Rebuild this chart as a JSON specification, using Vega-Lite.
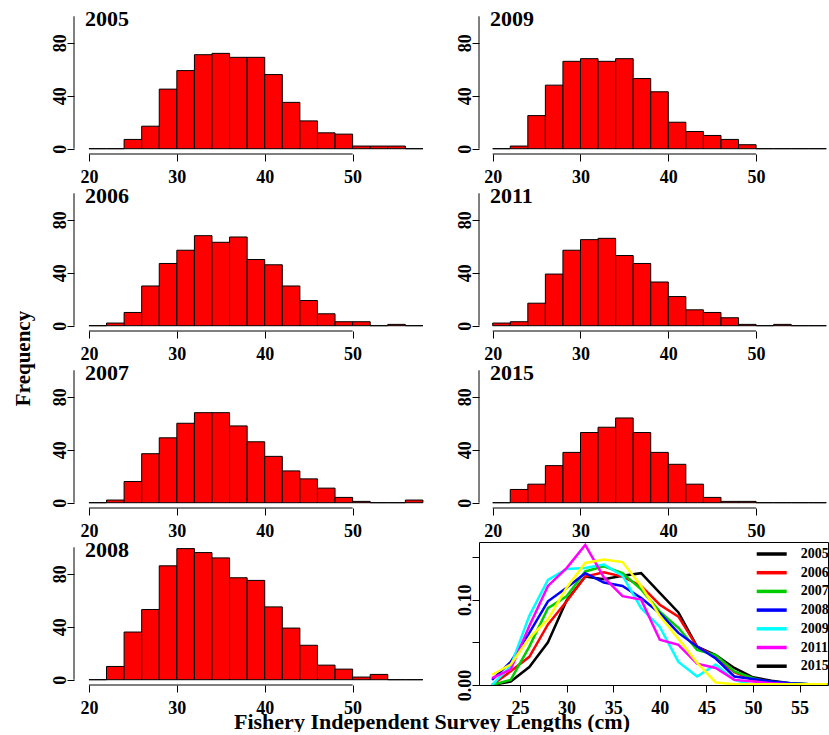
{
 "$schema": "https://vega.github.io/schema/vega-lite/v6.json",
 "padding": {"left": 12, "top": 8, "right": 0, "bottom": 0},
 "columns": 2,
 "spacing": {"row": 34, "column": 42},
 "bounds": "flush",
 "align": "each",
 "datasets": {
  "hist": [
   {"year":"2005","lo":20,"hi":22,"count":0},{"year":"2005","lo":22,"hi":24,"count":0},{"year":"2005","lo":24,"hi":26,"count":7},{"year":"2005","lo":26,"hi":28,"count":17},{"year":"2005","lo":28,"hi":30,"count":45},{"year":"2005","lo":30,"hi":32,"count":59},{"year":"2005","lo":32,"hi":34,"count":71},{"year":"2005","lo":34,"hi":36,"count":72},{"year":"2005","lo":36,"hi":38,"count":69},{"year":"2005","lo":38,"hi":40,"count":69},{"year":"2005","lo":40,"hi":42,"count":56},{"year":"2005","lo":42,"hi":44,"count":35},{"year":"2005","lo":44,"hi":46,"count":21},{"year":"2005","lo":46,"hi":48,"count":12},{"year":"2005","lo":48,"hi":50,"count":11},{"year":"2005","lo":50,"hi":52,"count":2},{"year":"2005","lo":52,"hi":54,"count":2},{"year":"2005","lo":54,"hi":56,"count":2},{"year":"2005","lo":56,"hi":58,"count":0},
   {"year":"2006","lo":20,"hi":22,"count":0},{"year":"2006","lo":22,"hi":24,"count":2},{"year":"2006","lo":24,"hi":26,"count":10},{"year":"2006","lo":26,"hi":28,"count":30},{"year":"2006","lo":28,"hi":30,"count":47},{"year":"2006","lo":30,"hi":32,"count":57},{"year":"2006","lo":32,"hi":34,"count":68},{"year":"2006","lo":34,"hi":36,"count":63},{"year":"2006","lo":36,"hi":38,"count":67},{"year":"2006","lo":38,"hi":40,"count":50},{"year":"2006","lo":40,"hi":42,"count":46},{"year":"2006","lo":42,"hi":44,"count":30},{"year":"2006","lo":44,"hi":46,"count":19},{"year":"2006","lo":46,"hi":48,"count":9},{"year":"2006","lo":48,"hi":50,"count":3},{"year":"2006","lo":50,"hi":52,"count":3},{"year":"2006","lo":52,"hi":54,"count":0},{"year":"2006","lo":54,"hi":56,"count":1},{"year":"2006","lo":56,"hi":58,"count":0},
   {"year":"2007","lo":20,"hi":22,"count":0},{"year":"2007","lo":22,"hi":24,"count":2},{"year":"2007","lo":24,"hi":26,"count":16},{"year":"2007","lo":26,"hi":28,"count":37},{"year":"2007","lo":28,"hi":30,"count":49},{"year":"2007","lo":30,"hi":32,"count":60},{"year":"2007","lo":32,"hi":34,"count":68},{"year":"2007","lo":34,"hi":36,"count":68},{"year":"2007","lo":36,"hi":38,"count":58},{"year":"2007","lo":38,"hi":40,"count":46},{"year":"2007","lo":40,"hi":42,"count":35},{"year":"2007","lo":42,"hi":44,"count":24},{"year":"2007","lo":44,"hi":46,"count":18},{"year":"2007","lo":46,"hi":48,"count":11},{"year":"2007","lo":48,"hi":50,"count":4},{"year":"2007","lo":50,"hi":52,"count":1},{"year":"2007","lo":52,"hi":54,"count":0},{"year":"2007","lo":54,"hi":56,"count":0},{"year":"2007","lo":56,"hi":58,"count":2},
   {"year":"2008","lo":20,"hi":22,"count":0},{"year":"2008","lo":22,"hi":24,"count":10},{"year":"2008","lo":24,"hi":26,"count":36},{"year":"2008","lo":26,"hi":28,"count":53},{"year":"2008","lo":28,"hi":30,"count":86},{"year":"2008","lo":30,"hi":32,"count":99},{"year":"2008","lo":32,"hi":34,"count":96},{"year":"2008","lo":34,"hi":36,"count":92},{"year":"2008","lo":36,"hi":38,"count":77},{"year":"2008","lo":38,"hi":40,"count":75},{"year":"2008","lo":40,"hi":42,"count":55},{"year":"2008","lo":42,"hi":44,"count":39},{"year":"2008","lo":44,"hi":46,"count":26},{"year":"2008","lo":46,"hi":48,"count":11},{"year":"2008","lo":48,"hi":50,"count":8},{"year":"2008","lo":50,"hi":52,"count":2},{"year":"2008","lo":52,"hi":54,"count":4},{"year":"2008","lo":54,"hi":56,"count":0},{"year":"2008","lo":56,"hi":58,"count":0},
   {"year":"2009","lo":20,"hi":22,"count":0},{"year":"2009","lo":22,"hi":24,"count":2},{"year":"2009","lo":24,"hi":26,"count":25},{"year":"2009","lo":26,"hi":28,"count":48},{"year":"2009","lo":28,"hi":30,"count":66},{"year":"2009","lo":30,"hi":32,"count":68},{"year":"2009","lo":32,"hi":34,"count":66},{"year":"2009","lo":34,"hi":36,"count":68},{"year":"2009","lo":36,"hi":38,"count":53},{"year":"2009","lo":38,"hi":40,"count":43},{"year":"2009","lo":40,"hi":42,"count":20},{"year":"2009","lo":42,"hi":44,"count":13},{"year":"2009","lo":44,"hi":46,"count":10},{"year":"2009","lo":46,"hi":48,"count":7},{"year":"2009","lo":48,"hi":50,"count":3},{"year":"2009","lo":50,"hi":52,"count":0},{"year":"2009","lo":52,"hi":54,"count":0},{"year":"2009","lo":54,"hi":56,"count":0},{"year":"2009","lo":56,"hi":58,"count":0},
   {"year":"2011","lo":20,"hi":22,"count":2},{"year":"2011","lo":22,"hi":24,"count":3},{"year":"2011","lo":24,"hi":26,"count":17},{"year":"2011","lo":26,"hi":28,"count":39},{"year":"2011","lo":28,"hi":30,"count":57},{"year":"2011","lo":30,"hi":32,"count":65},{"year":"2011","lo":32,"hi":34,"count":66},{"year":"2011","lo":34,"hi":36,"count":53},{"year":"2011","lo":36,"hi":38,"count":47},{"year":"2011","lo":38,"hi":40,"count":33},{"year":"2011","lo":40,"hi":42,"count":22},{"year":"2011","lo":42,"hi":44,"count":12},{"year":"2011","lo":44,"hi":46,"count":10},{"year":"2011","lo":46,"hi":48,"count":6},{"year":"2011","lo":48,"hi":50,"count":1},{"year":"2011","lo":50,"hi":52,"count":0},{"year":"2011","lo":52,"hi":54,"count":1},{"year":"2011","lo":54,"hi":56,"count":0},{"year":"2011","lo":56,"hi":58,"count":0},
   {"year":"2015","lo":20,"hi":22,"count":0},{"year":"2015","lo":22,"hi":24,"count":10},{"year":"2015","lo":24,"hi":26,"count":14},{"year":"2015","lo":26,"hi":28,"count":28},{"year":"2015","lo":28,"hi":30,"count":38},{"year":"2015","lo":30,"hi":32,"count":53},{"year":"2015","lo":32,"hi":34,"count":57},{"year":"2015","lo":34,"hi":36,"count":64},{"year":"2015","lo":36,"hi":38,"count":53},{"year":"2015","lo":38,"hi":40,"count":38},{"year":"2015","lo":40,"hi":42,"count":29},{"year":"2015","lo":42,"hi":44,"count":14},{"year":"2015","lo":44,"hi":46,"count":4},{"year":"2015","lo":46,"hi":48,"count":1},{"year":"2015","lo":48,"hi":50,"count":1},{"year":"2015","lo":50,"hi":52,"count":0},{"year":"2015","lo":52,"hi":54,"count":0},{"year":"2015","lo":54,"hi":56,"count":0},{"year":"2015","lo":56,"hi":58,"count":0}
  ],
  "dens": [
   {"year":"2005","len":22,"dens":0.000},{"year":"2005","len":24,"dens":0.004},{"year":"2005","len":26,"dens":0.021},{"year":"2005","len":28,"dens":0.050},{"year":"2005","len":30,"dens":0.099},{"year":"2005","len":32,"dens":0.127},{"year":"2005","len":34,"dens":0.124},{"year":"2005","len":36,"dens":0.128},{"year":"2005","len":38,"dens":0.131},{"year":"2005","len":40,"dens":0.108},{"year":"2005","len":42,"dens":0.085},{"year":"2005","len":44,"dens":0.045},{"year":"2005","len":46,"dens":0.035},{"year":"2005","len":48,"dens":0.020},{"year":"2005","len":50,"dens":0.009},{"year":"2005","len":52,"dens":0.005},{"year":"2005","len":54,"dens":0.002},{"year":"2005","len":56,"dens":0.001},{"year":"2005","len":58,"dens":0.001},
   {"year":"2006","len":22,"dens":0.000},{"year":"2006","len":24,"dens":0.016},{"year":"2006","len":26,"dens":0.033},{"year":"2006","len":28,"dens":0.071},{"year":"2006","len":30,"dens":0.098},{"year":"2006","len":32,"dens":0.127},{"year":"2006","len":34,"dens":0.132},{"year":"2006","len":36,"dens":0.127},{"year":"2006","len":38,"dens":0.116},{"year":"2006","len":40,"dens":0.094},{"year":"2006","len":42,"dens":0.080},{"year":"2006","len":44,"dens":0.045},{"year":"2006","len":46,"dens":0.033},{"year":"2006","len":48,"dens":0.015},{"year":"2006","len":50,"dens":0.006},{"year":"2006","len":52,"dens":0.003},{"year":"2006","len":54,"dens":0.001},{"year":"2006","len":56,"dens":0.001},{"year":"2006","len":58,"dens":0.000},
   {"year":"2007","len":22,"dens":0.000},{"year":"2007","len":24,"dens":0.006},{"year":"2007","len":26,"dens":0.045},{"year":"2007","len":28,"dens":0.090},{"year":"2007","len":30,"dens":0.104},{"year":"2007","len":32,"dens":0.133},{"year":"2007","len":34,"dens":0.139},{"year":"2007","len":36,"dens":0.131},{"year":"2007","len":38,"dens":0.112},{"year":"2007","len":40,"dens":0.086},{"year":"2007","len":42,"dens":0.067},{"year":"2007","len":44,"dens":0.041},{"year":"2007","len":46,"dens":0.035},{"year":"2007","len":48,"dens":0.016},{"year":"2007","len":50,"dens":0.008},{"year":"2007","len":52,"dens":0.003},{"year":"2007","len":54,"dens":0.002},{"year":"2007","len":56,"dens":0.001},{"year":"2007","len":58,"dens":0.001},
   {"year":"2008","len":22,"dens":0.006},{"year":"2008","len":24,"dens":0.027},{"year":"2008","len":26,"dens":0.061},{"year":"2008","len":28,"dens":0.098},{"year":"2008","len":30,"dens":0.114},{"year":"2008","len":32,"dens":0.131},{"year":"2008","len":34,"dens":0.120},{"year":"2008","len":36,"dens":0.116},{"year":"2008","len":38,"dens":0.102},{"year":"2008","len":40,"dens":0.084},{"year":"2008","len":42,"dens":0.061},{"year":"2008","len":44,"dens":0.045},{"year":"2008","len":46,"dens":0.031},{"year":"2008","len":48,"dens":0.010},{"year":"2008","len":50,"dens":0.007},{"year":"2008","len":52,"dens":0.004},{"year":"2008","len":54,"dens":0.002},{"year":"2008","len":56,"dens":0.001},{"year":"2008","len":58,"dens":0.000},
   {"year":"2009","len":22,"dens":0.000},{"year":"2009","len":24,"dens":0.022},{"year":"2009","len":26,"dens":0.081},{"year":"2009","len":28,"dens":0.123},{"year":"2009","len":30,"dens":0.136},{"year":"2009","len":32,"dens":0.137},{"year":"2009","len":34,"dens":0.141},{"year":"2009","len":36,"dens":0.128},{"year":"2009","len":38,"dens":0.090},{"year":"2009","len":40,"dens":0.068},{"year":"2009","len":42,"dens":0.027},{"year":"2009","len":44,"dens":0.010},{"year":"2009","len":46,"dens":0.024},{"year":"2009","len":48,"dens":0.006},{"year":"2009","len":50,"dens":0.000},{"year":"2009","len":52,"dens":0.000},{"year":"2009","len":54,"dens":0.000},{"year":"2009","len":56,"dens":0.000},{"year":"2009","len":58,"dens":0.000},
   {"year":"2011","len":22,"dens":0.008},{"year":"2011","len":24,"dens":0.018},{"year":"2011","len":26,"dens":0.069},{"year":"2011","len":28,"dens":0.116},{"year":"2011","len":30,"dens":0.137},{"year":"2011","len":32,"dens":0.164},{"year":"2011","len":34,"dens":0.126},{"year":"2011","len":36,"dens":0.104},{"year":"2011","len":38,"dens":0.100},{"year":"2011","len":40,"dens":0.053},{"year":"2011","len":42,"dens":0.047},{"year":"2011","len":44,"dens":0.025},{"year":"2011","len":46,"dens":0.020},{"year":"2011","len":48,"dens":0.006},{"year":"2011","len":50,"dens":0.004},{"year":"2011","len":52,"dens":0.002},{"year":"2011","len":54,"dens":0.001},{"year":"2011","len":56,"dens":0.000},{"year":"2011","len":58,"dens":0.000},
   {"year":"2015","len":22,"dens":0.012},{"year":"2015","len":24,"dens":0.024},{"year":"2015","len":26,"dens":0.055},{"year":"2015","len":28,"dens":0.077},{"year":"2015","len":30,"dens":0.114},{"year":"2015","len":32,"dens":0.143},{"year":"2015","len":34,"dens":0.147},{"year":"2015","len":36,"dens":0.144},{"year":"2015","len":38,"dens":0.116},{"year":"2015","len":40,"dens":0.081},{"year":"2015","len":42,"dens":0.054},{"year":"2015","len":44,"dens":0.026},{"year":"2015","len":46,"dens":0.003},{"year":"2015","len":48,"dens":0.001},{"year":"2015","len":50,"dens":0.001},{"year":"2015","len":52,"dens":0.001},{"year":"2015","len":54,"dens":0.001},{"year":"2015","len":56,"dens":0.001},{"year":"2015","len":58,"dens":0.001}
  ]
 },
 "concat": [
  {"width": 363, "height": 143, "title": {"text": "2005"}, "data": {"name": "hist"},
   "layer": [
    {"transform": [{"filter": "datum.year == '2005'"}], "mark": {"type": "rect", "fill": "#ff0000", "stroke": "#000000", "strokeWidth": 1},
     "encoding": {"x": {"field": "lo", "type": "quantitative", "scale": {"domain": [18.3, 59.6], "nice": false, "zero": false}, "axis": {"values": [20,30,40,50], "title": null}},
      "x2": {"field": "hi"},
      "y": {"field": "count", "type": "quantitative", "scale": {"domain": [-4, 104], "nice": false, "zero": false}, "axis": {"values": [0,20,40,60,80,100], "title": null, "labelAngle": 270, "labelAlign": "center", "labelBaseline": "alphabetic", "labelExpr": "datum.value % 40 == 0 && datum.value < 100 ? datum.label : ''"}},
      "y2": {"datum": 0}}},
    {"data": {"values": [{}]}, "mark": {"type": "rule", "color": "#000000"}, "encoding": {"x": {"datum": 20}, "x2": {"datum": 50}, "y": {"datum": -4}}},
    {"data": {"values": [{}]}, "mark": {"type": "rule", "color": "#000000"}, "encoding": {"x": {"datum": 18.3}, "y": {"datum": 0}, "y2": {"datum": 100}}}
   ]},
  {"width": 349, "height": 143, "title": {"text": "2009"}, "data": {"name": "hist"},
   "layer": [
    {"transform": [{"filter": "datum.year == '2009'"}], "mark": {"type": "rect", "fill": "#ff0000", "stroke": "#000000", "strokeWidth": 1},
     "encoding": {"x": {"field": "lo", "type": "quantitative", "scale": {"domain": [18.44, 58.19], "nice": false, "zero": false}, "axis": {"values": [20,30,40,50], "title": null}},
      "x2": {"field": "hi"},
      "y": {"field": "count", "type": "quantitative", "scale": {"domain": [-4, 104], "nice": false, "zero": false}, "axis": {"values": [0,20,40,60,80,100], "title": null, "labelAngle": 270, "labelAlign": "center", "labelBaseline": "alphabetic", "labelExpr": "datum.value % 40 == 0 && datum.value < 100 ? datum.label : ''"}},
      "y2": {"datum": 0}}},
    {"data": {"values": [{}]}, "mark": {"type": "rule", "color": "#000000"}, "encoding": {"x": {"datum": 20}, "x2": {"datum": 50}, "y": {"datum": -4}}},
    {"data": {"values": [{}]}, "mark": {"type": "rule", "color": "#000000"}, "encoding": {"x": {"datum": 18.44}, "y": {"datum": 0}, "y2": {"datum": 100}}}
   ]},
  {"width": 363, "height": 143, "title": {"text": "2006"}, "data": {"name": "hist"},
   "layer": [
    {"transform": [{"filter": "datum.year == '2006'"}], "mark": {"type": "rect", "fill": "#ff0000", "stroke": "#000000", "strokeWidth": 1},
     "encoding": {"x": {"field": "lo", "type": "quantitative", "scale": {"domain": [18.3, 59.6], "nice": false, "zero": false}, "axis": {"values": [20,30,40,50], "title": null}},
      "x2": {"field": "hi"},
      "y": {"field": "count", "type": "quantitative", "scale": {"domain": [-4, 104], "nice": false, "zero": false}, "axis": {"values": [0,20,40,60,80,100], "title": "Frequency", "titleX": -51, "titleY": 170, "titleAngle": 270, "titleAlign": "center", "titleBaseline": "middle", "labelAngle": 270, "labelAlign": "center", "labelBaseline": "alphabetic", "labelExpr": "datum.value % 40 == 0 && datum.value < 100 ? datum.label : ''"}},
      "y2": {"datum": 0}}},
    {"data": {"values": [{}]}, "mark": {"type": "rule", "color": "#000000"}, "encoding": {"x": {"datum": 20}, "x2": {"datum": 50}, "y": {"datum": -4}}},
    {"data": {"values": [{}]}, "mark": {"type": "rule", "color": "#000000"}, "encoding": {"x": {"datum": 18.3}, "y": {"datum": 0}, "y2": {"datum": 100}}}
   ]},
  {"width": 349, "height": 143, "title": {"text": "2011"}, "data": {"name": "hist"},
   "layer": [
    {"transform": [{"filter": "datum.year == '2011'"}], "mark": {"type": "rect", "fill": "#ff0000", "stroke": "#000000", "strokeWidth": 1},
     "encoding": {"x": {"field": "lo", "type": "quantitative", "scale": {"domain": [18.44, 58.19], "nice": false, "zero": false}, "axis": {"values": [20,30,40,50], "title": null}},
      "x2": {"field": "hi"},
      "y": {"field": "count", "type": "quantitative", "scale": {"domain": [-4, 104], "nice": false, "zero": false}, "axis": {"values": [0,20,40,60,80,100], "title": null, "labelAngle": 270, "labelAlign": "center", "labelBaseline": "alphabetic", "labelExpr": "datum.value % 40 == 0 && datum.value < 100 ? datum.label : ''"}},
      "y2": {"datum": 0}}},
    {"data": {"values": [{}]}, "mark": {"type": "rule", "color": "#000000"}, "encoding": {"x": {"datum": 20}, "x2": {"datum": 50}, "y": {"datum": -4}}},
    {"data": {"values": [{}]}, "mark": {"type": "rule", "color": "#000000"}, "encoding": {"x": {"datum": 18.44}, "y": {"datum": 0}, "y2": {"datum": 100}}}
   ]},
  {"width": 363, "height": 143, "title": {"text": "2007"}, "data": {"name": "hist"},
   "layer": [
    {"transform": [{"filter": "datum.year == '2007'"}], "mark": {"type": "rect", "fill": "#ff0000", "stroke": "#000000", "strokeWidth": 1},
     "encoding": {"x": {"field": "lo", "type": "quantitative", "scale": {"domain": [18.3, 59.6], "nice": false, "zero": false}, "axis": {"values": [20,30,40,50], "title": null}},
      "x2": {"field": "hi"},
      "y": {"field": "count", "type": "quantitative", "scale": {"domain": [-4, 104], "nice": false, "zero": false}, "axis": {"values": [0,20,40,60,80,100], "title": null, "labelAngle": 270, "labelAlign": "center", "labelBaseline": "alphabetic", "labelExpr": "datum.value % 40 == 0 && datum.value < 100 ? datum.label : ''"}},
      "y2": {"datum": 0}}},
    {"data": {"values": [{}]}, "mark": {"type": "rule", "color": "#000000"}, "encoding": {"x": {"datum": 20}, "x2": {"datum": 50}, "y": {"datum": -4}}},
    {"data": {"values": [{}]}, "mark": {"type": "rule", "color": "#000000"}, "encoding": {"x": {"datum": 18.3}, "y": {"datum": 0}, "y2": {"datum": 100}}}
   ]},
  {"width": 349, "height": 143, "title": {"text": "2015"}, "data": {"name": "hist"},
   "layer": [
    {"transform": [{"filter": "datum.year == '2015'"}], "mark": {"type": "rect", "fill": "#ff0000", "stroke": "#000000", "strokeWidth": 1},
     "encoding": {"x": {"field": "lo", "type": "quantitative", "scale": {"domain": [18.44, 58.19], "nice": false, "zero": false}, "axis": {"values": [20,30,40,50], "title": null}},
      "x2": {"field": "hi"},
      "y": {"field": "count", "type": "quantitative", "scale": {"domain": [-4, 104], "nice": false, "zero": false}, "axis": {"values": [0,20,40,60,80,100], "title": null, "labelAngle": 270, "labelAlign": "center", "labelBaseline": "alphabetic", "labelExpr": "datum.value % 40 == 0 && datum.value < 100 ? datum.label : ''"}},
      "y2": {"datum": 0}}},
    {"data": {"values": [{}]}, "mark": {"type": "rule", "color": "#000000"}, "encoding": {"x": {"datum": 20}, "x2": {"datum": 50}, "y": {"datum": -4}}},
    {"data": {"values": [{}]}, "mark": {"type": "rule", "color": "#000000"}, "encoding": {"x": {"datum": 18.44}, "y": {"datum": 0}, "y2": {"datum": 100}}}
   ]},
  {"width": 363, "height": 143, "title": {"text": "2008"}, "data": {"name": "hist"},
   "layer": [
    {"transform": [{"filter": "datum.year == '2008'"}], "mark": {"type": "rect", "fill": "#ff0000", "stroke": "#000000", "strokeWidth": 1},
     "encoding": {"x": {"field": "lo", "type": "quantitative", "scale": {"domain": [18.3, 59.6], "nice": false, "zero": false}, "axis": {"values": [20,30,40,50], "title": "Fishery Independent Survey Lengths (cm)", "titleFontSize": 22, "titleX": 357.5, "titleY": 43, "titleAlign": "center", "titleBaseline": "alphabetic"}},
      "x2": {"field": "hi"},
      "y": {"field": "count", "type": "quantitative", "scale": {"domain": [-4, 104], "nice": false, "zero": false}, "axis": {"values": [0,20,40,60,80,100], "title": null, "labelAngle": 270, "labelAlign": "center", "labelBaseline": "alphabetic", "labelExpr": "datum.value % 40 == 0 && datum.value < 100 ? datum.label : ''"}},
      "y2": {"datum": 0}}},
    {"data": {"values": [{}]}, "mark": {"type": "rule", "color": "#000000"}, "encoding": {"x": {"datum": 20}, "x2": {"datum": 50}, "y": {"datum": -4}}},
    {"data": {"values": [{}]}, "mark": {"type": "rule", "color": "#000000"}, "encoding": {"x": {"datum": 18.3}, "y": {"datum": 0}, "y2": {"datum": 100}}}
   ]},
  {"width": 349, "height": 143, "view": {"stroke": "#000000", "strokeWidth": 1}, "data": {"name": "dens"},
   "mark": {"type": "line", "strokeWidth": 2.5, "clip": true},
   "encoding": {"x": {"field": "len", "type": "quantitative", "scale": {"domain": [20.6, 58.05], "nice": false, "zero": false}, "axis": {"values": [25,30,35,40,45,50,55], "title": null}},
    "y": {"field": "dens", "type": "quantitative", "scale": {"domain": [0, 0.1675], "nice": false, "zero": false}, "axis": {"values": [0, 0.05, 0.1, 0.15], "title": null, "labelAngle": 270, "labelAlign": "center", "labelBaseline": "alphabetic", "labelExpr": "datum.value < 0.001 ? '0.00' : (abs(datum.value - 0.1) < 0.001 ? '0.10' : '')"}},
    "color": {"field": "year", "type": "nominal",
     "condition": {"test": "datum.year == '2015'", "value": "#ffff00"},
     "scale": {"domain": ["2005","2006","2007","2008","2009","2011","2015"], "range": ["#000000","#ff0000","#00cd00","#0000ff","#00ffff","#ff00ff","#000000"]},
     "legend": {"orient": "none", "legendX": 690.7, "legendY": 536, "title": null, "padding": 0, "symbolType": "M-3,0H3", "symbolSize": 100, "symbolStrokeWidth": 3.5, "labelFont": "Liberation Serif", "labelFontSize": 14, "labelFontWeight": "bold", "labelColor": "#000000", "labelOffset": 22, "labelBaseline": "middle", "rowPadding": 4.7}}}
  }
 ],
 "config": {
  "font": "Liberation Serif",
  "background": "#ffffff",
  "view": {"stroke": null},
  "axis": {"domain": false, "grid": false, "ticks": true, "tickColor": "#000000", "tickSize": 7, "tickWidth": 1, "labelFont": "Liberation Serif", "labelFontSize": 18, "labelFontWeight": "bold", "labelColor": "#000000", "labelOverlap": false, "labelFlush": false, "titleFont": "Liberation Serif", "titleFontWeight": "bold", "titleColor": "#000000", "titleFontSize": 21},
  "axisX": {"labelPadding": 7},
  "axisY": {"labelPadding": 2},
  "title": {"font": "Liberation Serif", "fontSize": 22, "fontWeight": "bold", "color": "#000000", "anchor": "start", "frame": "group", "offset": -20, "dx": 11, "baseline": "alphabetic"}
 }
}
